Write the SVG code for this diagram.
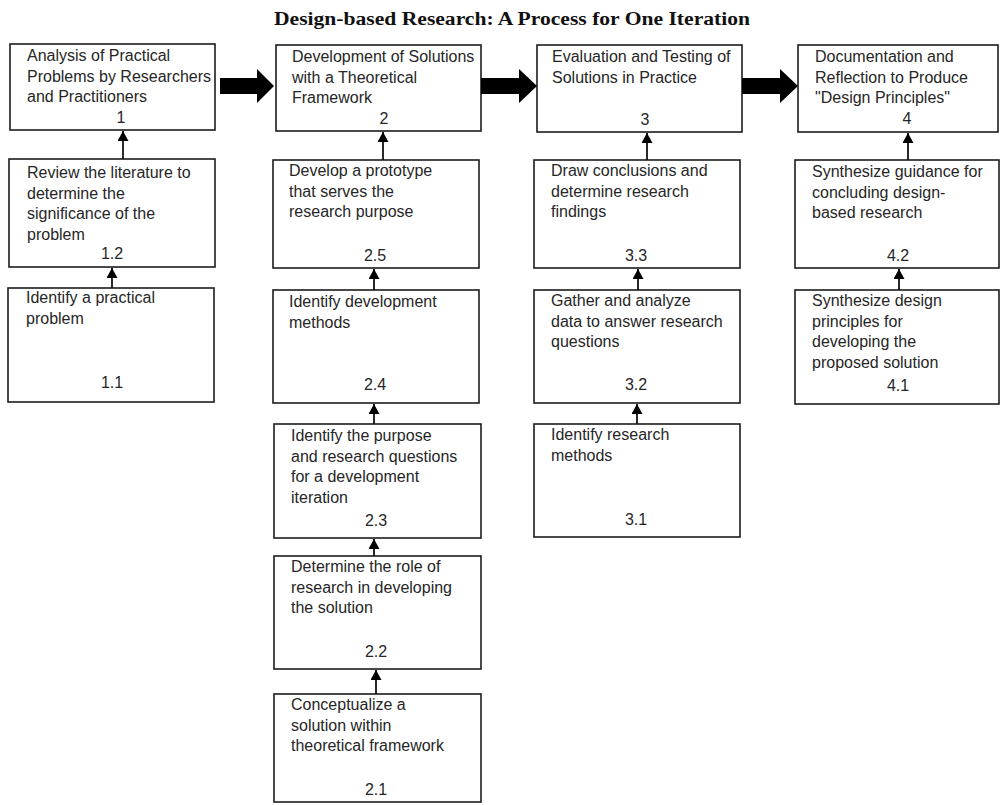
<svg xmlns="http://www.w3.org/2000/svg" width="1001" height="805" viewBox="0 0 1001 805">
<style>
.box{fill:#fff;stroke:#1c1c1c;stroke-width:1.6}
.t{font-family:"Liberation Sans",Arial,sans-serif;font-size:16px;fill:#262626}
.n{font-family:"Liberation Sans",Arial,sans-serif;font-size:16px;fill:#262626;text-anchor:middle}
.title{font-family:"Liberation Serif","Times New Roman",serif;font-size:18px;font-weight:bold;fill:#111;text-anchor:middle}
.c{stroke:#111;stroke-width:1.8;fill:none}
.big{fill:#000}
</style>
<defs>
<marker id="ah" viewBox="0 0 10 10" refX="10" refY="5" markerWidth="10" markerHeight="11" markerUnits="userSpaceOnUse" orient="auto" preserveAspectRatio="none">
<path d="M0,0 L10,5 L0,10 z" fill="#000"/>
</marker>
</defs>
<rect width="1001" height="805" fill="#fff"/>
<text class="title" x="512" y="25" textLength="476" lengthAdjust="spacingAndGlyphs">Design-based Research: A Process for One Iteration</text>

<g id="n1"><rect class="box" x="10" y="44" width="205" height="86"/>
<text class="t" y="61"><tspan x="27">Analysis of Practical</tspan><tspan x="27" dy="20.7">Problems by Researchers</tspan><tspan x="27" dy="20.7">and Practitioners</tspan></text>
<text class="n" x="121" y="123">1</text></g>
<g id="n1_2"><rect class="box" x="9" y="159" width="206" height="108"/>
<text class="t" y="178"><tspan x="27">Review the literature to</tspan><tspan x="27" dy="20.5">determine the</tspan><tspan x="27" dy="20.5">significance of the</tspan><tspan x="27" dy="20.5">problem</tspan></text>
<text class="n" x="112" y="259">1.2</text></g>
<g id="n1_1"><rect class="box" x="8" y="288" width="206" height="114"/>
<text class="t" y="303"><tspan x="26">Identify a practical</tspan><tspan x="26" dy="20.7">problem</tspan></text>
<text class="n" x="112" y="388">1.1</text></g>

<g id="n2"><rect class="box" x="276" y="45" width="205" height="86"/>
<text class="t" y="62"><tspan x="292">Development of Solutions</tspan><tspan x="292" dy="20.7">with a Theoretical</tspan><tspan x="292" dy="20.7">Framework</tspan></text>
<text class="n" x="384" y="124">2</text></g>
<g id="n2_5"><rect class="box" x="273" y="160" width="206" height="108"/>
<text class="t" y="176"><tspan x="289">Develop a prototype</tspan><tspan x="289" dy="20.7">that serves the</tspan><tspan x="289" dy="20.7">research purpose</tspan></text>
<text class="n" x="375" y="261">2.5</text></g>
<g id="n2_4"><rect class="box" x="273" y="290" width="206" height="113"/>
<text class="t" y="307"><tspan x="289">Identify development</tspan><tspan x="289" dy="20.7">methods</tspan></text>
<text class="n" x="375" y="390">2.4</text></g>
<g id="n2_3"><rect class="box" x="274" y="424" width="207" height="114"/>
<text class="t" y="441"><tspan x="291">Identify the purpose</tspan><tspan x="291" dy="20.7">and research questions</tspan><tspan x="291" dy="20.7">for a development</tspan><tspan x="291" dy="20.7">iteration</tspan></text>
<text class="n" x="376" y="526">2.3</text></g>
<g id="n2_2"><rect class="box" x="274" y="556" width="207" height="113"/>
<text class="t" y="572"><tspan x="291">Determine the role of</tspan><tspan x="291" dy="20.7">research in developing</tspan><tspan x="291" dy="20.7">the solution</tspan></text>
<text class="n" x="376" y="657">2.2</text></g>
<g id="n2_1"><rect class="box" x="274" y="694" width="207" height="108"/>
<text class="t" y="710"><tspan x="291">Conceptualize a</tspan><tspan x="291" dy="20.7">solution within</tspan><tspan x="291" dy="20.7">theoretical framework</tspan></text>
<text class="n" x="376" y="795">2.1</text></g>

<g id="n3"><rect class="box" x="537" y="45" width="205" height="87"/>
<text class="t" y="62"><tspan x="552">Evaluation and Testing of</tspan><tspan x="552" dy="20.7">Solutions in Practice</tspan></text>
<text class="n" x="645" y="125">3</text></g>
<g id="n3_3"><rect class="box" x="534" y="160" width="206" height="108"/>
<text class="t" y="176"><tspan x="551">Draw conclusions and</tspan><tspan x="551" dy="20.7">determine research</tspan><tspan x="551" dy="20.7">findings</tspan></text>
<text class="n" x="636" y="261">3.3</text></g>
<g id="n3_2"><rect class="box" x="534" y="290" width="206" height="113"/>
<text class="t" y="306"><tspan x="551">Gather and analyze</tspan><tspan x="551" dy="20.7">data to answer research</tspan><tspan x="551" dy="20.7">questions</tspan></text>
<text class="n" x="636" y="390">3.2</text></g>
<g id="n3_1"><rect class="box" x="534" y="424" width="206" height="113"/>
<text class="t" y="440"><tspan x="551">Identify research</tspan><tspan x="551" dy="20.7">methods</tspan></text>
<text class="n" x="636" y="525">3.1</text></g>

<g id="n4"><rect class="box" x="798" y="45" width="200" height="87"/>
<text class="t" y="62"><tspan x="815">Documentation and</tspan><tspan x="815" dy="20.7">Reflection to Produce</tspan><tspan x="815" dy="20.7">"Design Principles"</tspan></text>
<text class="n" x="907" y="124">4</text></g>
<g id="n4_2"><rect class="box" x="795" y="160" width="204" height="108"/>
<text class="t" y="177"><tspan x="812">Synthesize guidance for</tspan><tspan x="812" dy="20.7">concluding design-</tspan><tspan x="812" dy="20.7">based research</tspan></text>
<text class="n" x="898" y="261">4.2</text></g>
<g id="n4_1"><rect class="box" x="795" y="290" width="204" height="114"/>
<text class="t" y="306"><tspan x="812">Synthesize design</tspan><tspan x="812" dy="20.7">principles for</tspan><tspan x="812" dy="20.7">developing the</tspan><tspan x="812" dy="20.7">proposed solution</tspan></text>
<text class="n" x="898" y="391">4.1</text></g>

<g id="connectors">
<polygon class="big" points="220,78 257,78 257,69 274,86 257,103 257,94 220,94"/>
<polygon class="big" points="481,78 519,78 519,69 537,86 519,103 519,94 481,94"/>
<polygon class="big" points="742,78 780,78 780,69 798,86 780,103 780,94 742,94"/>
<line class="c" x1="123" y1="159" x2="123" y2="131" marker-end="url(#ah)"/>
<line class="c" x1="112" y1="288" x2="112" y2="268" marker-end="url(#ah)"/>
<line class="c" x1="383" y1="160" x2="383" y2="132" marker-end="url(#ah)"/>
<line class="c" x1="374" y1="290" x2="374" y2="269" marker-end="url(#ah)"/>
<line class="c" x1="374" y1="424" x2="374" y2="404" marker-end="url(#ah)"/>
<line class="c" x1="374" y1="556" x2="374" y2="539" marker-end="url(#ah)"/>
<line class="c" x1="376" y1="694" x2="376" y2="670" marker-end="url(#ah)"/>
<line class="c" x1="647" y1="160" x2="647" y2="133" marker-end="url(#ah)"/>
<line class="c" x1="638" y1="290" x2="638" y2="269" marker-end="url(#ah)"/>
<line class="c" x1="637" y1="424" x2="637" y2="404" marker-end="url(#ah)"/>
<line class="c" x1="908" y1="160" x2="908" y2="133" marker-end="url(#ah)"/>
<line class="c" x1="899" y1="290" x2="899" y2="269" marker-end="url(#ah)"/>
</g>
</svg>
